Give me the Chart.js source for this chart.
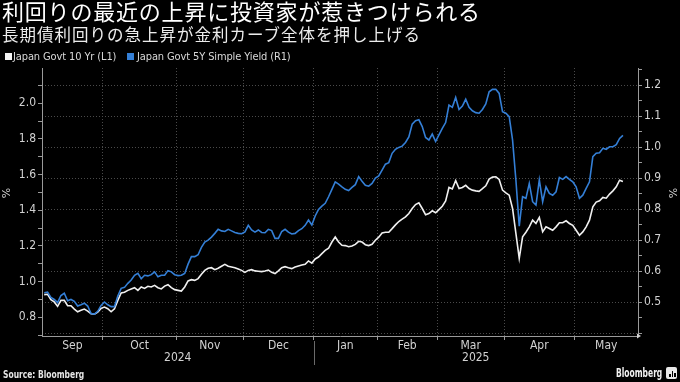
<!DOCTYPE html>
<html><head><meta charset="utf-8">
<script src="https://cdn.jsdelivr.net/npm/chart.js@4.4.1/dist/chart.umd.min.js"></script>
<style>
html,body{margin:0;padding:0;background:#000;width:680px;height:382px;overflow:hidden;}
#wrap{position:relative;width:680px;height:382px;background:#000;}
canvas{position:absolute;left:0;top:0;}
.t{position:absolute;white-space:nowrap;}
#title{left:2px;top:-2px;font-family:'Noto Sans CJK JP',sans-serif;font-size:22px;line-height:24px;letter-spacing:0.8px;color:#fff;}
#sub{left:2px;top:24px;font-family:'Noto Sans CJK JP',sans-serif;font-size:16.5px;line-height:20px;letter-spacing:1px;color:#ececec;}
.lg{font-family:'DejaVu Sans Condensed','DejaVu Sans',sans-serif;font-size:11px;line-height:12px;color:#d8d8d8;top:51px;letter-spacing:-0.12px;}
.sq{position:absolute;width:7px;height:7px;top:53px;}
.pct{font-family:'DejaVu Sans',sans-serif;font-size:11px;color:#cfcfcf;line-height:12px;}
#src{left:3px;top:368px;font-family:'DejaVu Sans Condensed','DejaVu Sans',sans-serif;font-weight:bold;font-size:10px;line-height:13px;color:#e6e6e6;transform:scaleX(0.84);transform-origin:0 50%;}
#bb{left:616px;top:366px;font-family:'DejaVu Sans Condensed','DejaVu Sans',sans-serif;font-weight:bold;font-size:12px;line-height:14px;color:#f2f2f2;transform:scaleX(0.7);transform-origin:0 50%;}
</style></head><body>
<div id="wrap">
<canvas id="c" width="680" height="382"></canvas>
<div class="t" id="title">利回りの最近の上昇に投資家が惹きつけられる</div>
<div class="t" id="sub">長期債利回りの急上昇が金利カーブ全体を押し上げる</div>
<div class="sq" style="left:5px;background:#f2f2f2;"></div>
<div class="t lg" id="lg1" style="left:13px;"></div>
<div class="sq" style="left:127px;background:#347fd6;"></div>
<div class="t lg" id="lg2" style="left:137px;"></div>
<div class="t pct" style="left:2px;top:187px;transform:rotate(-90deg);">%</div>
<div class="t pct" style="left:669px;top:187px;transform:rotate(-90deg);">%</div>
<div class="t" id="src">Source: Bloomberg</div>
<div class="t" id="bb">Bloomberg</div>
<div class="t" style="left:666px;top:367px;width:11px;height:12px;background:#e8e8e8;border-radius:2px;"></div>
<div class="t" style="left:669px;top:374px;width:1.5px;height:3px;background:#000;"></div>
<div class="t" style="left:671.5px;top:371px;width:1.5px;height:6px;background:#000;"></div>
<div class="t" style="left:674px;top:372.5px;width:1.5px;height:4.5px;background:#000;"></div>
</div>
<script>
// ---- data (one point per Japanese trading day, early Sep 2024 – late May 2025) ----
const seriesNames = ['Japan Govt 10 Yr (L1)', 'Japan Govt 5Y Simple Yield (R1)'];
const monthLabels = ['Sep','Oct','Nov','Dec','Jan','Feb','Mar','Apr','May'];
const monthTradingDays = [18,22,20,21,19,18,20,21,15];
const yearLabels = ['2024','2025'];
const yearFirstMonth = [0,4];

const jgb10y = [
0.927,0.929,0.899,0.886,0.861,0.895,0.895,0.865,0.865,0.846,
0.831,0.839,0.846,0.835,0.820,0.818,0.829,0.850,0.857,0.848,
0.831,0.848,0.895,0.936,0.940,0.951,0.959,0.966,0.951,0.970,
0.962,0.974,0.970,0.979,0.966,0.959,0.975,0.983,0.966,0.955,
0.951,0.947,0.970,1.004,1.011,1.007,1.017,1.041,1.063,1.075,
1.078,1.067,1.075,1.086,1.097,1.086,1.082,1.078,1.071,1.063,
1.052,1.063,1.067,1.060,1.058,1.056,1.060,1.065,1.052,1.045,
1.060,1.078,1.084,1.078,1.073,1.082,1.088,1.093,1.097,1.116,
1.104,1.127,1.138,1.157,1.175,1.187,1.222,1.250,1.222,1.204,
1.202,1.196,1.200,1.209,1.226,1.222,1.207,1.202,1.209,1.232,
1.249,1.273,1.277,1.277,1.297,1.318,1.337,1.350,1.363,1.382,
1.410,1.432,1.442,1.410,1.375,1.382,1.397,1.386,1.404,1.423,
1.453,1.528,1.520,1.567,1.522,1.528,1.540,1.522,1.513,1.509,
1.506,1.521,1.537,1.575,1.586,1.588,1.573,1.513,1.498,1.485,
1.410,1.270,1.130,1.251,1.277,1.307,1.345,1.326,1.360,1.279,
1.307,1.298,1.288,1.307,1.330,1.330,1.341,1.326,1.316,1.288,
1.260,1.279,1.307,1.345,1.419,1.446,1.453,1.472,1.468,1.491,
1.509,1.532,1.569,1.562];

const jgb5ySimple = [
0.531,0.533,0.516,0.509,0.499,0.522,0.529,0.505,0.509,0.503,
0.488,0.492,0.497,0.488,0.464,0.462,0.471,0.490,0.501,0.492,
0.486,0.486,0.520,0.545,0.548,0.561,0.572,0.587,0.593,0.576,
0.587,0.585,0.589,0.598,0.582,0.587,0.587,0.602,0.598,0.589,
0.586,0.587,0.593,0.623,0.647,0.647,0.653,0.677,0.694,0.700,
0.710,0.722,0.735,0.730,0.728,0.735,0.730,0.725,0.722,0.721,
0.727,0.748,0.733,0.726,0.733,0.725,0.724,0.735,0.731,0.706,
0.706,0.728,0.735,0.726,0.720,0.722,0.731,0.737,0.748,0.765,
0.749,0.778,0.799,0.810,0.819,0.840,0.864,0.888,0.881,0.872,
0.864,0.860,0.870,0.879,0.905,0.890,0.877,0.874,0.883,0.900,
0.907,0.926,0.945,0.950,0.980,0.993,0.999,1.003,1.015,1.033,
1.074,1.085,1.088,1.066,1.031,1.023,1.042,1.018,1.039,1.060,
1.079,1.135,1.128,1.160,1.121,1.132,1.154,1.128,1.117,1.111,
1.109,1.121,1.139,1.178,1.186,1.186,1.173,1.114,1.109,1.098,
1.023,0.894,0.745,0.840,0.835,0.883,0.824,0.813,0.894,0.824,
0.872,0.851,0.845,0.856,0.902,0.896,0.905,0.896,0.888,0.872,
0.835,0.845,0.867,0.888,0.969,0.980,0.982,0.996,0.993,1.001,
1.001,1.008,1.028,1.038];

const leftTickLabels = ['0.8','1.0','1.2','1.4','1.6','1.8','2.0'];
const rightTickLabels = ['0.5','0.6','0.7','0.8','0.9','1.0','1.1','1.2'];

document.getElementById('lg1').textContent = seriesNames[0];
document.getElementById('lg2').textContent = seriesNames[1];

// month boundaries in trading-day index units
const monthBounds = [];
{ let acc = -0.5; for (const d of monthTradingDays) { acc += d; monthBounds.push(acc); } }

const XMIN = -0.66, XMAX = 177.5;
const FONT = "'DejaVu Sans Condensed','DejaVu Sans',sans-serif";
const GRID = '#4a4a4a';
const AXIS = '#9a9a9a';
const TXT = '#d2d2d2';

const monthPlugin = {
  id: 'monthLabels',
  afterDraw(chart) {
    const xs = chart.scales.x, ctx = chart.ctx, area = chart.chartArea;
    ctx.save();
    ctx.fillStyle = TXT;
    ctx.font = '12px ' + FONT;
    ctx.textAlign = 'center';
    ctx.textBaseline = 'middle';
    const edges = [XMIN].concat(monthBounds.slice(0, -1), [XMAX]);
    monthLabels.forEach((m, i) => {
      const a = xs.getPixelForValue(edges[i]), b = xs.getPixelForValue(edges[i + 1]);
      ctx.fillText(m, (a + b) / 2, area.bottom + 10);
    });
    yearLabels.forEach((y, k) => {
      const s = edges[yearFirstMonth[k]];
      const e = k + 1 < yearLabels.length ? edges[yearFirstMonth[k + 1]] : XMAX;
      const a = xs.getPixelForValue(s), b = xs.getPixelForValue(e);
      ctx.fillText(y, (a + b) / 2, area.bottom + 22);
    });
    // year separator
    ctx.strokeStyle = '#6a6a6a';
    ctx.lineWidth = 1;
    for (let k = 1; k < yearLabels.length; k++) {
      const px = Math.round(xs.getPixelForValue(edges[yearFirstMonth[k]])) + 0.5;
      ctx.beginPath(); ctx.moveTo(px, area.bottom + 5); ctx.lineTo(px, area.bottom + 29); ctx.stroke();
    }
    // small arrow at end of x axis
    ctx.fillStyle = '#cfcfcf';
    ctx.beginPath();
    ctx.moveTo(area.right + 3, area.bottom);
    ctx.lineTo(area.right - 1, area.bottom - 2.5);
    ctx.lineTo(area.right - 1, area.bottom + 2.5);
    ctx.closePath(); ctx.fill();
    ctx.restore();
  }
};

const isMajor = v => Math.abs(v * 10 - Math.round(v * 10)) < 1e-6;

new Chart(document.getElementById('c'), {
  type: 'line',
  data: {
    datasets: [
      { label: seriesNames[1], yAxisID: 'yR', order: 1,
        data: jgb5ySimple.map((v, i) => ({ x: i, y: v })),
        borderColor: '#347fd6', borderWidth: 1.6, pointRadius: 0, tension: 0 },
      { label: seriesNames[0], yAxisID: 'yL', order: 2,
        data: jgb10y.map((v, i) => ({ x: i, y: v })),
        borderColor: '#f0f0f0', borderWidth: 1.6, pointRadius: 0, tension: 0 }
    ]
  },
  options: {
    responsive: false, animation: false, events: [],
    layout: { padding: { top: 68, left: 0, right: 0, bottom: 0 } },
    plugins: { legend: { display: false }, tooltip: { enabled: false }, title: { display: false } },
    scales: {
      x: {
        type: 'linear', min: XMIN, max: XMAX,
        afterBuildTicks: s => { s.ticks = monthBounds.slice(0, -1).map(v => ({ value: v })); },
        afterFit: s => { s.height = 46; },
        ticks: { display: false },
        grid: { color: GRID, lineWidth: 1, drawTicks: true, tickLength: 4, tickColor: AXIS },
        border: { display: true, color: AXIS, width: 1, dash: [1, 2] }
      },
      yL: {
        type: 'linear', position: 'left', min: 0.695, max: 2.198,
        afterBuildTicks: s => { const t = []; for (let k = 7; k <= 21; k++) t.push({ value: k / 10 }); s.ticks = t; },
        afterFit: s => { s.width = 42; },
        ticks: {
          autoSkip: false, color: TXT, padding: 2, font: { family: FONT, size: 12 },
          callback: v => { const k = Math.round(v * 10); const lbl = (k / 10).toFixed(1); return leftTickLabels.includes(lbl) ? lbl : ''; }
        },
        grid: { drawOnChartArea: false, drawTicks: true, tickLength: 4, tickColor: AXIS },
        border: { display: true, color: AXIS, width: 1 }
      },
      yR: {
        type: 'linear', position: 'right', min: 0.3914, max: 1.2548,
        afterBuildTicks: s => { const t = []; for (let k = 8; k <= 25; k++) t.push({ value: k / 20 }); s.ticks = t; },
        afterFit: s => { s.width = 42; },
        ticks: {
          autoSkip: false, color: TXT, padding: 2, font: { family: FONT, size: 12 },
          callback: v => { const lbl = (Math.round(v * 100) / 100).toFixed(1); return (isMajor(v) && rightTickLabels.includes(lbl)) ? lbl : ''; }
        },
        grid: {
          drawOnChartArea: true, drawTicks: true, tickLength: 4, tickColor: AXIS,
          color: c => (c.tick && isMajor(c.tick.value)) ? GRID : 'rgba(0,0,0,0)'
        },
        border: { display: true, color: AXIS, width: 1, dash: [1, 2] }
      }
    }
  },
  plugins: [monthPlugin]
});
</script>
</body></html>
